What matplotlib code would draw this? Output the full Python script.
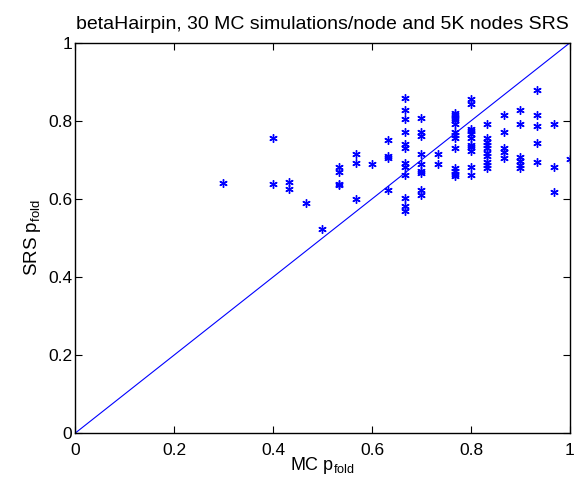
import numpy as np
import matplotlib
matplotlib.use("Agg")
import matplotlib.pyplot as plt

plt.rcParams['font.family'] = ['Liberation Sans', 'DejaVu Sans']
plt.rcParams['mathtext.default'] = 'regular'

# MC pfold values (multiples of 1/30) and the SRS pfold estimates
mc_groups = [0.3, 0.4, 0.4333, 0.4667, 0.5, 0.5333, 0.5667, 0.6, 0.6333, 0.6667,
             0.7, 0.7333, 0.7667, 0.8, 0.8333, 0.8667, 0.9, 0.9333, 0.9667, 1.0]
srs_groups = [
    [0.640],
    [0.755, 0.638],
    [0.644, 0.625],
    [0.590],
    [0.524],
    [0.681, 0.668, 0.639, 0.636],
    [0.716, 0.693, 0.600],
    [0.689],
    [0.750, 0.709, 0.706, 0.623],
    [0.858, 0.828, 0.804, 0.771, 0.741, 0.730, 0.692, 0.681, 0.662, 0.603, 0.582, 0.570],
    [0.808, 0.771, 0.761, 0.716, 0.689, 0.672, 0.666, 0.624, 0.609],
    [0.716, 0.690],
    [0.821, 0.814, 0.807, 0.801, 0.792, 0.772, 0.763, 0.757, 0.730, 0.679, 0.672, 0.665, 0.660],
    [0.855, 0.844, 0.780, 0.774, 0.767, 0.755, 0.738, 0.734, 0.724, 0.683, 0.662],
    [0.792, 0.757, 0.746, 0.738, 0.730, 0.718, 0.711, 0.694, 0.687, 0.680],
    [0.814, 0.772, 0.730, 0.721, 0.704],
    [0.828, 0.791, 0.708, 0.696, 0.687, 0.680],
    [0.880, 0.816, 0.786, 0.742, 0.695],
    [0.791, 0.683, 0.619],
    [0.702],
]
ticks = [0, 0.2, 0.4, 0.6, 0.8, 1]
tick_labels = ['0', '0.2', '0.4', '0.6', '0.8', '1']

mc = np.concatenate([[m] * len(s) for m, s in zip(mc_groups, srs_groups)])
srs = np.concatenate(srs_groups)

fig = plt.figure(figsize=(5.75, 4.8), dpi=100)
ax = fig.add_axes([0.1304, 0.0973, 0.8609, 0.8137])

ax.plot([0, 1], [0, 1], color='blue', lw=0.8)
ax.plot(mc, srs, linestyle='none', marker=(6, 2, 0), markersize=6,
        markeredgewidth=1.0, color='blue')

ax.set_xlim(0, 1)
ax.set_ylim(0, 1)
ax.set_xticks(ticks)
ax.set_xticklabels(tick_labels)
ax.set_yticks(ticks)
ax.set_yticklabels(tick_labels)
ax.tick_params(direction='in', top=True, right=True, labelsize=12.5, length=5)
ax.tick_params(axis='x', pad=7)
ax.tick_params(axis='y', pad=2)
for sp in ax.spines.values():
    sp.set_linewidth(1.0)

ax.set_xlabel('MC p$_{fold}$', fontsize=13, labelpad=-2)
ax.set_ylabel('SRS p$_{fold}$', fontsize=13.5, labelpad=4)
ax.set_title('betaHairpin, 30 MC simulations/node and 5K nodes SRS', fontsize=14, pad=10)

fig.savefig('out.png', dpi=100)
